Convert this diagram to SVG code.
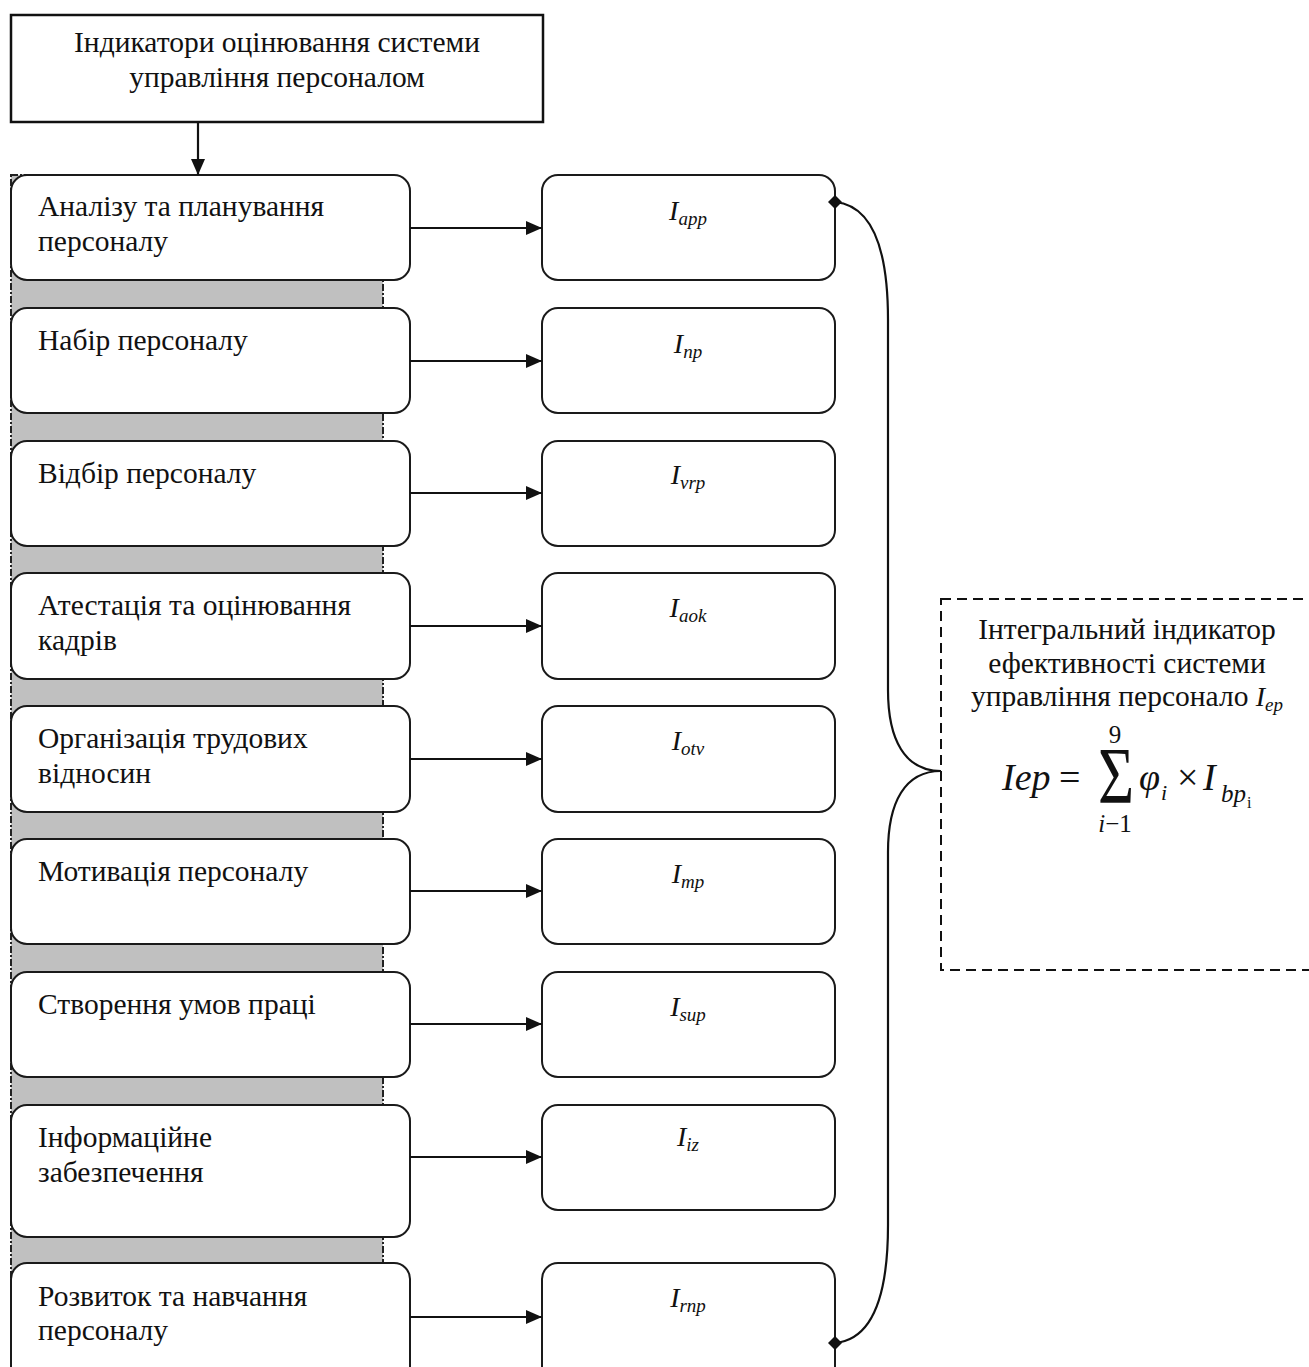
<svg xmlns="http://www.w3.org/2000/svg" width="1309" height="1367" viewBox="0 0 1309 1367">
<defs>
<style>
.t{font-family:"Liberation Serif","Times New Roman",serif;font-size:29.5px;fill:#111}
.f{font-family:"Liberation Serif","Times New Roman",serif;fill:#111}
.i{font-family:"Liberation Serif","Times New Roman",serif;font-style:italic;fill:#111}
.box{fill:#fff;stroke:#1a1a1a;stroke-width:2}
.con{stroke:#111;stroke-width:2.2;fill:none}
</style>
<marker id="arr" markerWidth="16" markerHeight="14" refX="16" refY="7" orient="auto" markerUnits="userSpaceOnUse">
<path d="M0,0 L16,7 L0,14 Z" fill="#111"/>
</marker>
</defs>
<rect width="1309" height="1367" fill="#fff"/>

<!-- gray background band -->
<rect x="11" y="175" width="372" height="1200" fill="#c0c0c0" stroke="#222" stroke-width="2" stroke-dasharray="7 2 2 2"/>

<g id="top">
<rect x="11" y="15" width="532" height="107" fill="#fff" stroke="#111" stroke-width="2.5"/>
<text class="t" x="277" y="52" text-anchor="middle">Індикатори оцінювання системи</text>
<text class="t" x="277" y="87" text-anchor="middle">управління персоналом</text>
</g>

<g id="left-nodes">
<g id="l1"><rect class="box" x="11" y="175" width="399" height="105" rx="16"/><text class="t" x="38" y="216">Аналізу та планування</text><text class="t" x="38" y="251">персоналу</text></g>
<g id="l2"><rect class="box" x="11" y="308" width="399" height="105" rx="16"/><text class="t" x="38" y="350">Набір персоналу</text></g>
<g id="l3"><rect class="box" x="11" y="441" width="399" height="105" rx="16"/><text class="t" x="38" y="483">Відбір персоналу</text></g>
<g id="l4"><rect class="box" x="11" y="573" width="399" height="106" rx="16"/><text class="t" x="38" y="615">Атестація та оцінювання</text><text class="t" x="38" y="650">кадрів</text></g>
<g id="l5"><rect class="box" x="11" y="706" width="399" height="106" rx="16"/><text class="t" x="38" y="748">Організація трудових</text><text class="t" x="38" y="783">відносин</text></g>
<g id="l6"><rect class="box" x="11" y="839" width="399" height="105" rx="16"/><text class="t" x="38" y="881">Мотивація персоналу</text></g>
<g id="l7"><rect class="box" x="11" y="972" width="399" height="105" rx="16"/><text class="t" x="38" y="1014">Створення умов праці</text></g>
<g id="l8"><rect class="box" x="11" y="1105" width="399" height="132" rx="16"/><text class="t" x="38" y="1147">Інформаційне</text><text class="t" x="38" y="1182">забезпечення</text></g>
<g id="l9"><rect class="box" x="11" y="1263" width="399" height="130" rx="16"/><text class="t" x="38" y="1306">Розвиток та навчання</text><text class="t" x="38" y="1340">персоналу</text></g>
</g>

<g id="right-nodes">
<g id="r1"><rect class="box" x="542" y="175" width="293" height="105" rx="16"/><text class="i" x="688" y="220" text-anchor="middle"><tspan font-size="28">I</tspan><tspan font-size="19" dy="5">app</tspan></text></g>
<g id="r2"><rect class="box" x="542" y="308" width="293" height="105" rx="16"/><text class="i" x="688" y="353" text-anchor="middle"><tspan font-size="28">I</tspan><tspan font-size="19" dy="5">np</tspan></text></g>
<g id="r3"><rect class="box" x="542" y="441" width="293" height="105" rx="16"/><text class="i" x="688" y="484" text-anchor="middle"><tspan font-size="28">I</tspan><tspan font-size="19" dy="5">vrp</tspan></text></g>
<g id="r4"><rect class="box" x="542" y="573" width="293" height="106" rx="16"/><text class="i" x="688" y="617" text-anchor="middle"><tspan font-size="28">I</tspan><tspan font-size="19" dy="5">aok</tspan></text></g>
<g id="r5"><rect class="box" x="542" y="706" width="293" height="106" rx="16"/><text class="i" x="688" y="750" text-anchor="middle"><tspan font-size="28">I</tspan><tspan font-size="19" dy="5">otv</tspan></text></g>
<g id="r6"><rect class="box" x="542" y="839" width="293" height="105" rx="16"/><text class="i" x="688" y="883" text-anchor="middle"><tspan font-size="28">I</tspan><tspan font-size="19" dy="5">mp</tspan></text></g>
<g id="r7"><rect class="box" x="542" y="972" width="293" height="105" rx="16"/><text class="i" x="688" y="1016" text-anchor="middle"><tspan font-size="28">I</tspan><tspan font-size="19" dy="5">sup</tspan></text></g>
<g id="r8"><rect class="box" x="542" y="1105" width="293" height="105" rx="16"/><text class="i" x="688" y="1146" text-anchor="middle"><tspan font-size="28">I</tspan><tspan font-size="19" dy="5">iz</tspan></text></g>
<g id="r9"><rect class="box" x="542" y="1263" width="293" height="130" rx="16"/><text class="i" x="688" y="1307" text-anchor="middle"><tspan font-size="28">I</tspan><tspan font-size="19" dy="5">rnp</tspan></text></g>
</g>

<g id="integral">
<rect x="941" y="599" width="400" height="371" fill="none" stroke="#111" stroke-width="2" stroke-dasharray="10 6"/>
<text class="t" x="1127" y="639" text-anchor="middle">Інтегральний індикатор</text>
<text class="t" x="1127" y="673" text-anchor="middle">ефективності системи</text>
<text class="t" x="1127" y="706" text-anchor="middle">управління персонало <tspan class="i" font-size="28">I</tspan><tspan class="i" font-size="19" dy="5">ep</tspan></text>
<text class="i" x="1002" y="790" font-size="38">Iep</text>
<text class="f" x="1059" y="790" font-size="38">=</text>
<text class="f" transform="translate(1116,803) scale(1,1.3)" x="0" y="0" font-size="62" text-anchor="middle">Σ</text>
<text class="f" x="1115" y="743" font-size="25" text-anchor="middle">9</text>
<text class="f" x="1115" y="832" font-size="25" text-anchor="middle"><tspan font-style="italic">i</tspan>−1</text>
<text class="i" x="1139" y="790" font-size="38">φ</text>
<text class="i" x="1161" y="800" font-size="22">i</text>
<text class="f" x="1177" y="790" font-size="38">×</text>
<text class="i" x="1203" y="790" font-size="38">I</text>
<text class="i" x="1221" y="802" font-size="25">bp</text>
<text class="f" x="1247" y="808" font-size="16">i</text>
</g>

<g id="connectors">
<line class="con" x1="198" y1="122" x2="198" y2="175" marker-end="url(#arr)"/>
<line class="con" x1="410" y1="228" x2="542" y2="228" marker-end="url(#arr)"/>
<line class="con" x1="410" y1="361" x2="542" y2="361" marker-end="url(#arr)"/>
<line class="con" x1="410" y1="493" x2="542" y2="493" marker-end="url(#arr)"/>
<line class="con" x1="410" y1="626" x2="542" y2="626" marker-end="url(#arr)"/>
<line class="con" x1="410" y1="759" x2="542" y2="759" marker-end="url(#arr)"/>
<line class="con" x1="410" y1="891" x2="542" y2="891" marker-end="url(#arr)"/>
<line class="con" x1="410" y1="1024" x2="542" y2="1024" marker-end="url(#arr)"/>
<line class="con" x1="410" y1="1157" x2="542" y2="1157" marker-end="url(#arr)"/>
<line class="con" x1="410" y1="1317" x2="542" y2="1317" marker-end="url(#arr)"/>
<path class="con" d="M835,202 C868,205 888,240 888,320 L888,690 C888,740 905,771 941,771 C905,771 888,802 888,852 L888,1225 C888,1305 868,1340 835,1343"/>
<path d="M835,195 L842,202 L835,209 L828,202 Z" fill="#111"/>
<path d="M835,1336 L842,1343 L835,1350 L828,1343 Z" fill="#111"/>
</g>
</svg>
